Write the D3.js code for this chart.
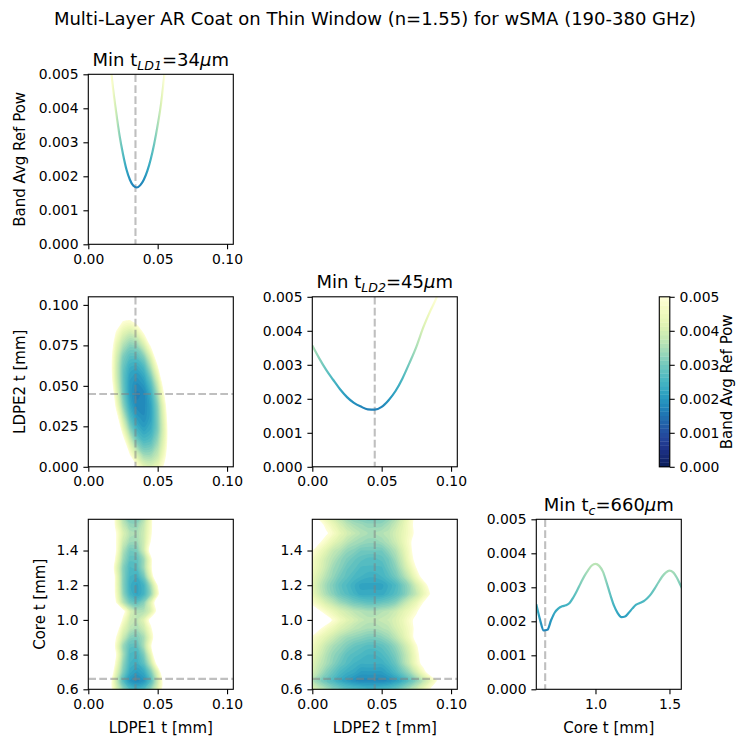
<!DOCTYPE html>
<html>
<head>
<meta charset="utf-8">
<script src="https://cdn.jsdelivr.net/npm/d3@7"></script>
<style>
  body { margin: 0; background: #fff; }
  svg text { font-family: "DejaVu Sans", sans-serif; fill: #000; }
</style>
</head>
<body>
<div id="wrapper"></div>
<script>
// all reflected-power values below are in units of 1e-4 (so 50 == 0.005)

// sample positions (mm)
const ld1Grid = [0, 0.005, 0.01, 0.015, 0.02, 0.025, 0.03, 0.035, 0.04, 0.045, 0.05, 0.055, 0.06, 0.065, 0.07, 0.075]
const ld2GridY = [0, 0.0075, 0.015, 0.0225, 0.03, 0.0375, 0.045, 0.0525, 0.06, 0.0675, 0.075, 0.0825, 0.09, 0.0975, 0.105]
const ld2GridX = [0, 0.005, 0.01, 0.015, 0.02, 0.025, 0.03, 0.035, 0.04, 0.045, 0.05, 0.055, 0.06, 0.065, 0.07, 0.075, 0.08, 0.085, 0.09, 0.095]
const coreGrid = [0.6, 0.65, 0.7, 0.75, 0.8, 0.85, 0.9, 0.95, 1.0, 1.05, 1.1, 1.15, 1.2, 1.25, 1.3, 1.35, 1.4, 1.45, 1.5, 1.55, 1.6]

// LDPE1 (cols) x LDPE2 (rows)
const refLd1Ld2 = [
  [99, 99, 99, 99, 99, 78, 62, 50, 43, 41, 44, 52, 65, 83, 99, 99],
  [99, 99, 99, 99, 86, 65, 50, 40, 34, 34, 38, 47, 61, 80, 99, 99],
  [99, 99, 99, 97, 74, 55, 41, 31, 27, 28, 34, 44, 60, 80, 99, 99],
  [99, 99, 99, 86, 63, 46, 33, 25, 22, 24, 31, 43, 60, 82, 99, 99],
  [99, 99, 99, 76, 55, 39, 27, 21, 19, 22, 31, 44, 62, 85, 99, 99],
  [99, 99, 93, 68, 48, 33, 23, 18, 18, 22, 32, 46, 66, 90, 99, 99],
  [99, 99, 86, 63, 44, 30, 21, 17, 18, 24, 35, 51, 72, 97, 99, 99],
  [99, 99, 81, 58, 41, 29, 21, 19, 21, 28, 40, 57, 79, 99, 99, 99],
  [99, 99, 77, 56, 40, 29, 23, 22, 25, 34, 47, 66, 89, 99, 99, 99],
  [99, 99, 76, 56, 41, 31, 27, 27, 31, 41, 56, 76, 99, 99, 99, 99],
  [99, 99, 76, 58, 44, 36, 32, 33, 40, 51, 67, 88, 99, 99, 99, 99],
  [99, 99, 78, 61, 49, 42, 39, 42, 50, 62, 79, 99, 99, 99, 99, 99],
  [99, 99, 82, 67, 56, 50, 49, 53, 62, 75, 94, 99, 99, 99, 99, 99],
  [99, 99, 88, 74, 64, 60, 60, 65, 75, 90, 99, 99, 99, 99, 99, 99],
  [99, 99, 96, 83, 75, 71, 73, 80, 91, 99, 99, 99, 99, 99, 99, 99]
]

// LDPE1 (cols) x Core (rows)
const refLd1Core = [
  [99, 94, 73, 56, 42, 33, 27, 25, 27, 33, 42, 56, 73, 94, 99, 99],
  [99, 99, 78, 56, 39, 27, 20, 18, 20, 27, 39, 55, 76, 99, 99, 99],
  [99, 99, 84, 61, 43, 31, 23, 21, 23, 31, 43, 61, 84, 99, 99, 99],
  [99, 99, 91, 66, 47, 33, 25, 24, 28, 38, 54, 75, 99, 99, 99, 99],
  [99, 99, 99, 72, 50, 35, 26, 25, 31, 43, 63, 89, 99, 99, 99, 99],
  [99, 99, 92, 66, 47, 34, 28, 28, 35, 48, 68, 95, 99, 99, 99, 99],
  [99, 99, 89, 67, 50, 39, 32, 31, 35, 45, 59, 79, 99, 99, 99, 99],
  [99, 99, 95, 73, 55, 43, 37, 35, 39, 48, 62, 81, 99, 99, 99, 99],
  [99, 99, 99, 84, 62, 48, 39, 37, 42, 53, 70, 94, 99, 99, 99, 99],
  [99, 99, 99, 92, 70, 53, 41, 36, 36, 41, 53, 70, 92, 99, 99, 99],
  [99, 99, 93, 69, 50, 37, 30, 28, 32, 42, 57, 78, 99, 99, 99, 99],
  [99, 99, 90, 65, 47, 33, 25, 22, 25, 33, 47, 65, 90, 99, 99, 99],
  [99, 99, 93, 67, 46, 32, 24, 22, 25, 35, 50, 71, 99, 99, 99, 99],
  [99, 99, 95, 67, 46, 32, 25, 24, 30, 43, 62, 89, 99, 99, 99, 99],
  [99, 99, 86, 62, 44, 32, 26, 27, 34, 47, 66, 92, 99, 99, 99, 99],
  [99, 99, 91, 66, 47, 34, 28, 28, 34, 47, 66, 91, 99, 99, 99, 99],
  [99, 99, 98, 71, 50, 36, 30, 31, 39, 54, 76, 99, 99, 99, 99, 99],
  [99, 99, 88, 66, 50, 39, 34, 34, 39, 50, 66, 88, 99, 99, 99, 99],
  [99, 99, 82, 64, 50, 41, 36, 35, 39, 48, 61, 78, 99, 99, 99, 99],
  [99, 99, 81, 62, 47, 38, 33, 33, 38, 47, 62, 81, 99, 99, 99, 99],
  [99, 99, 87, 64, 47, 35, 30, 30, 35, 47, 64, 87, 99, 99, 99, 99]
]

// LDPE2 (cols) x Core (rows)
const refLd2Core = [
  [42, 38, 35, 32, 30, 28, 27, 26, 25, 25, 26, 27, 29, 32, 35, 39, 44, 50, 56, 64],
  [36, 32, 29, 26, 23, 21, 19, 18, 18, 18, 18, 19, 21, 24, 28, 32, 37, 43, 50, 58],
  [40, 36, 32, 29, 26, 24, 23, 21, 21, 21, 21, 23, 26, 30, 34, 40, 47, 55, 64, 74],
  [42, 38, 35, 32, 29, 27, 25, 24, 24, 24, 24, 26, 29, 34, 39, 46, 53, 62, 72, 83],
  [44, 40, 36, 33, 31, 28, 27, 26, 25, 25, 26, 28, 31, 35, 40, 47, 55, 64, 74, 85],
  [46, 42, 38, 35, 33, 31, 29, 28, 27, 27, 28, 30, 33, 37, 42, 49, 56, 65, 75, 85],
  [49, 45, 42, 39, 36, 34, 33, 32, 31, 31, 32, 34, 37, 41, 46, 53, 60, 69, 79, 90],
  [55, 51, 47, 44, 41, 39, 37, 36, 35, 35, 36, 37, 40, 43, 47, 52, 58, 65, 73, 81],
  [65, 59, 54, 49, 45, 42, 40, 38, 37, 37, 38, 39, 41, 44, 48, 52, 57, 63, 70, 77],
  [55, 51, 47, 44, 41, 39, 37, 36, 35, 35, 36, 37, 39, 42, 45, 49, 54, 60, 66, 73],
  [48, 44, 40, 37, 34, 32, 30, 29, 28, 28, 29, 30, 32, 36, 40, 44, 50, 57, 64, 72],
  [44, 39, 35, 32, 29, 27, 25, 23, 23, 23, 23, 25, 27, 30, 34, 38, 44, 50, 57, 65],
  [43, 38, 34, 31, 28, 26, 24, 22, 22, 22, 22, 24, 26, 30, 34, 40, 46, 53, 61, 70],
  [44, 40, 36, 33, 30, 28, 26, 25, 24, 24, 25, 27, 30, 34, 39, 46, 53, 62, 72, 83],
  [46, 42, 38, 34, 32, 29, 28, 26, 26, 26, 26, 29, 32, 37, 43, 50, 59, 68, 80, 92],
  [47, 43, 39, 36, 33, 31, 29, 28, 27, 27, 28, 30, 34, 39, 46, 53, 62, 73, 85, 98],
  [50, 46, 42, 38, 36, 33, 32, 30, 30, 30, 30, 33, 36, 41, 47, 55, 63, 74, 85, 98],
  [56, 51, 47, 43, 40, 37, 35, 34, 33, 33, 34, 36, 39, 43, 48, 55, 62, 71, 81, 92],
  [62, 56, 51, 47, 43, 40, 38, 36, 35, 35, 36, 37, 40, 43, 47, 52, 58, 65, 73, 81],
  [58, 53, 48, 44, 40, 37, 35, 34, 33, 33, 33, 35, 38, 42, 47, 53, 60, 68, 77, 87],
  [52, 47, 43, 39, 36, 33, 31, 30, 29, 29, 30, 32, 35, 40, 46, 53, 61, 71, 82, 94]
]

// 1D profiles
const ld1ProfileX = [0.015, 0.0175, 0.02, 0.0225, 0.025, 0.0275, 0.03, 0.0325, 0.035, 0.0375, 0.04, 0.0425, 0.045, 0.0475, 0.05, 0.0525, 0.055, 0.0575]
const ld1ProfileY = [57, 47, 39, 32, 26.5, 22, 19, 17.2, 16.7, 17.4, 19, 21.5, 25, 29.5, 35, 41.5, 50.5, 60]

const ld2ProfileX = [0, 0.005, 0.01, 0.015, 0.02, 0.025, 0.03, 0.035, 0.04, 0.045, 0.05, 0.055, 0.06, 0.065, 0.07, 0.075, 0.08, 0.085, 0.09, 0.095]
const ld2ProfileY = [35.7, 31.9, 28.5, 25.6, 22.8, 20.5, 18.8, 17.7, 16.9, 16.8, 17.6, 19.6, 22.3, 26, 30.5, 35.3, 41, 45.8, 50.2, 57]

const coreProfileX = [0.6, 0.625, 0.65, 0.675, 0.7, 0.725, 0.75, 0.775, 0.8, 0.825, 0.85, 0.875, 0.9, 0.925, 0.95, 0.975,
  1.0, 1.025, 1.05, 1.075, 1.1, 1.125, 1.15, 1.175, 1.2, 1.225, 1.25, 1.275, 1.3, 1.325, 1.35, 1.375,
  1.4, 1.425, 1.45, 1.475, 1.5, 1.525, 1.55, 1.575, 1.6]
const coreProfileY = [25, 20.5, 17.3, 17.5, 20.3, 22.6, 23.8, 24.4, 24.7, 25.4, 27, 29, 31.2, 33.3, 35, 36.4,
  36.9, 36.3, 34.6, 31.4, 27.8, 24.6, 22.4, 21.2, 21.4, 22.5, 23.8, 24.9, 25.4, 25.9, 26.8, 28,
  29.6, 31.4, 33.1, 34.3, 34.9, 34.4, 32.8, 30.6, 28.4]

// best thicknesses (mm)
const bestLd1 = 0.034
const bestLd2 = 0.045
const bestCore = 0.66

// ticks
const powTicks = [0, 0.001, 0.002, 0.003, 0.004, 0.005]
const ldTicks = [0, 0.05, 0.1]
const ld2YTicks = [0, 0.025, 0.05, 0.075, 0.1]
const coreYTicks = [0.6, 0.8, 1.0, 1.2, 1.4]
const coreXTicks = [1.0, 1.5]

const drawChart = () => {
  const width = 740
  const height = 738
  const fs = 13.9
  const labelFs = 15
  const titleFs = 18
  const tick = 4.9
  const colX = [88.3, 312.3, 536.3]
  const rowY = [74.3, 296.8, 519.3]
  const pw = 145
  const ph = 170
  const ldDomain = [0, 0.1045]
  const ld2Domain = [0, 0.105]
  const coreDomain = [0.6, 1.58]
  const powDomain = [0, 0.005]

  const svg = d3.select("#wrapper").append("svg")
    .attr("width", width).attr("height", height)
  const defs = svg.append("defs")

  const color = (v) => d3.interpolateYlGnBu(1 - Math.max(0, Math.min(1, v / 50)))
  const levels = d3.range(1.25, 50.001, 1.25)

  const makePanel = (col, row, xDomain, yDomain) => {
    const x0 = colX[col]
    const y0 = rowY[row]
    const xScale = d3.scaleLinear().domain(xDomain).range([x0, x0 + pw])
    const yScale = d3.scaleLinear().domain(yDomain).range([y0 + ph, y0])
    const id = `clip-${col}-${row}`
    defs.append("clipPath").attr("id", id)
      .append("rect").attr("x", x0).attr("y", y0).attr("width", pw).attr("height", ph)
    const plot = svg.append("g").attr("clip-path", `url(#${id})`)
    return { xScale, yScale, plot, x0, y0 }
  }

  const styleAxis = (a) => {
    a.attr("font-family", "DejaVu Sans").attr("font-size", fs)
    a.select(".domain").remove()
    a.selectAll(".tick line").attr("stroke", "#000").attr("stroke-width", 1.1)
    a.selectAll(".tick text").attr("fill", "#000")
  }

  const drawAxes = (p, xTicks, xFmt, yTicks, yFmt) => {
    svg.append("g")
      .attr("transform", `translate(0,${p.y0 + ph})`)
      .call(d3.axisBottom(p.xScale).tickValues(xTicks).tickFormat(d3.format(xFmt))
        .tickSize(tick).tickPadding(4.9))
      .call(styleAxis)
    svg.append("g")
      .attr("transform", `translate(${p.x0},0)`)
      .call(d3.axisLeft(p.yScale).tickValues(yTicks).tickFormat(d3.format(yFmt))
        .tickSize(tick).tickPadding(4.9))
      .call(styleAxis)
    svg.append("rect")
      .attr("x", p.x0).attr("y", p.y0).attr("width", pw).attr("height", ph)
      .attr("fill", "none").attr("stroke", "#000").attr("stroke-width", 1.1)
  }

  const guide = (p, axis, value) => {
    const line = p.plot.append("line")
      .attr("stroke", "#808080").attr("stroke-opacity", 0.5)
      .attr("stroke-width", 2.1).attr("stroke-dasharray", "7.7,3.3")
    if (axis === "x") {
      line.attr("x1", p.xScale(value)).attr("x2", p.xScale(value))
        .attr("y1", p.y0).attr("y2", p.y0 + ph)
    } else {
      line.attr("y1", p.yScale(value)).attr("y2", p.yScale(value))
        .attr("x1", p.x0).attr("x2", p.x0 + pw)
    }
  }

  const title = (p, sub, val) => {
    const t = svg.append("text")
      .attr("x", p.x0 + pw / 2).attr("y", p.y0 - 8.5)
      .attr("text-anchor", "middle").attr("font-size", titleFs)
    t.append("tspan").text("Min t")
    t.append("tspan").attr("font-size", 12.6).attr("font-style", "italic").attr("dy", 3.8).text(sub)
    t.append("tspan").attr("dy", -3.8).text("=" + val)
    t.append("tspan").attr("font-style", "italic").text("\u03bc")
    t.append("tspan").text("m")
  }

  // filled contours: band colour painted from the outer level inwards
  const field = (p, xs, ys, rows) => {
    const nx = xs.length
    const ny = ys.length
    const dx = xs[1] - xs[0]
    const dy = ys[1] - ys[0]
    const neg = rows.flat().map((v) => -v)
    const gen = d3.contours().size([nx, ny])
    const line = d3.line().curve(d3.curveCatmullRomClosed.alpha(0.5))
    const toPx = ([gx, gy]) => [
      p.xScale(xs[0] + (gx - 0.5) * dx),
      p.yScale(ys[0] + (gy - 0.5) * dy),
    ]
    levels.slice().reverse().forEach((t) => {
      const mp = gen.contour(neg, -t)
      let d = ""
      mp.coordinates.forEach((poly) => poly.forEach((ring) => {
        d += line(ring.slice(0, -1).map(toPx))
      }))
      if (d) {
        p.plot.append("path").attr("d", d)
          .attr("fill", color(t - 0.625)).attr("fill-rule", "evenodd")
      }
    })
  }

  // value-coloured line via a horizontal gradient
  const profile = (p, xs, vals, id) => {
    const xa = p.xScale(xs[0])
    const xb = p.xScale(xs[xs.length - 1])
    const grad = defs.append("linearGradient").attr("id", id)
      .attr("gradientUnits", "userSpaceOnUse")
      .attr("x1", xa).attr("x2", xb).attr("y1", 0).attr("y2", 0)
    xs.forEach((x, i) => {
      grad.append("stop")
        .attr("offset", (p.xScale(x) - xa) / (xb - xa))
        .attr("stop-color", color(vals[i]))
    })
    const line = d3.line()
      .x((d, i) => p.xScale(xs[i]))
      .y((d) => p.yScale(d * 1e-4))
      .curve(d3.curveMonotoneX)
    p.plot.append("path").datum(vals).attr("d", line)
      .attr("fill", "none").attr("stroke", `url(#${id})`).attr("stroke-width", 2.2)
  }

  // suptitle
  svg.append("text").attr("x", 375).attr("y", 25)
    .attr("text-anchor", "middle").attr("font-size", titleFs)
    .text("Multi-Layer AR Coat on Thin Window (n=1.55) for wSMA (190-380 GHz)")

  // 1) LDPE1 profile
  const pA = makePanel(0, 0, ldDomain, powDomain)
  guide(pA, "x", bestLd1)
  profile(pA, ld1ProfileX, ld1ProfileY, "g-ld1")
  drawAxes(pA, ldTicks, ".2f", powTicks, ".3f")
  title(pA, "LD1", "34")

  // 2) LDPE1 vs LDPE2
  const pB = makePanel(0, 1, ldDomain, ld2Domain)
  field(pB, ld1Grid, ld2GridY, refLd1Ld2)
  guide(pB, "x", bestLd1)
  guide(pB, "y", bestLd2)
  drawAxes(pB, ldTicks, ".2f", ld2YTicks, ".3f")

  // 3) LDPE2 profile
  const pC = makePanel(1, 1, ldDomain, powDomain)
  guide(pC, "x", bestLd2)
  profile(pC, ld2ProfileX, ld2ProfileY, "g-ld2")
  drawAxes(pC, ldTicks, ".2f", powTicks, ".3f")
  title(pC, "LD2", "45")

  // 4) LDPE1 vs core
  const pD = makePanel(0, 2, ldDomain, coreDomain)
  field(pD, ld1Grid, coreGrid, refLd1Core)
  guide(pD, "x", bestLd1)
  guide(pD, "y", bestCore)
  drawAxes(pD, ldTicks, ".2f", coreYTicks, ".1f")

  // 5) LDPE2 vs core
  const pE = makePanel(1, 2, ldDomain, coreDomain)
  field(pE, ld2GridX, coreGrid, refLd2Core)
  guide(pE, "x", bestLd2)
  guide(pE, "y", bestCore)
  drawAxes(pE, ldTicks, ".2f", coreYTicks, ".1f")

  // 6) core profile
  const pF = makePanel(2, 2, coreDomain, powDomain)
  guide(pF, "x", bestCore)
  profile(pF, coreProfileX, coreProfileY, "g-core")
  drawAxes(pF, coreXTicks, ".1f", powTicks, ".3f")
  title(pF, "c", "660")

  // axis labels
  const yLabel = (cx, cy, text) => {
    svg.append("text")
      .attr("transform", `translate(${cx},${cy}) rotate(-90)`)
      .attr("text-anchor", "middle").attr("dy", "0.35em")
      .attr("font-size", labelFs).text(text)
  }
  yLabel(20, pA.y0 + ph / 2, "Band Avg Ref Pow")
  yLabel(20, pB.y0 + ph / 2, "LDPE2 t [mm]")
  yLabel(39.5, pD.y0 + ph / 2, "Core t [mm]")
  ;[[pD, "LDPE1 t [mm]"], [pE, "LDPE2 t [mm]"], [pF, "Core t [mm]"]].forEach(([p, text]) => {
    svg.append("text").attr("x", p.x0 + pw / 2).attr("y", 732.5)
      .attr("text-anchor", "middle").attr("font-size", labelFs).text(text)
  })

  // colour bar
  const cbX = 659.3
  const cbW = 10.5
  const cbY = rowY[1]
  const cbScale = d3.scaleLinear().domain(powDomain).range([cbY + ph, cbY])
  const cb = svg.append("g")
  levels.forEach((t) => {
    cb.append("rect")
      .attr("x", cbX).attr("width", cbW)
      .attr("y", cbScale(t * 1e-4))
      .attr("height", cbScale((t - 1.25) * 1e-4) - cbScale(t * 1e-4) + 0.3)
      .attr("fill", color(t - 0.625))
  })
  cb.append("rect").attr("x", cbX).attr("y", cbY).attr("width", cbW).attr("height", ph)
    .attr("fill", "none").attr("stroke", "#000").attr("stroke-width", 1.1)
  svg.append("g")
    .attr("transform", `translate(${cbX + cbW},0)`)
    .call(d3.axisRight(cbScale).tickValues(powTicks).tickFormat(d3.format(".3f"))
      .tickSize(tick).tickPadding(4.9))
    .call(styleAxis)
  yLabel(727, cbY + ph / 2, "Band Avg Ref Pow")
}

drawChart()
</script>
</body>
</html>
